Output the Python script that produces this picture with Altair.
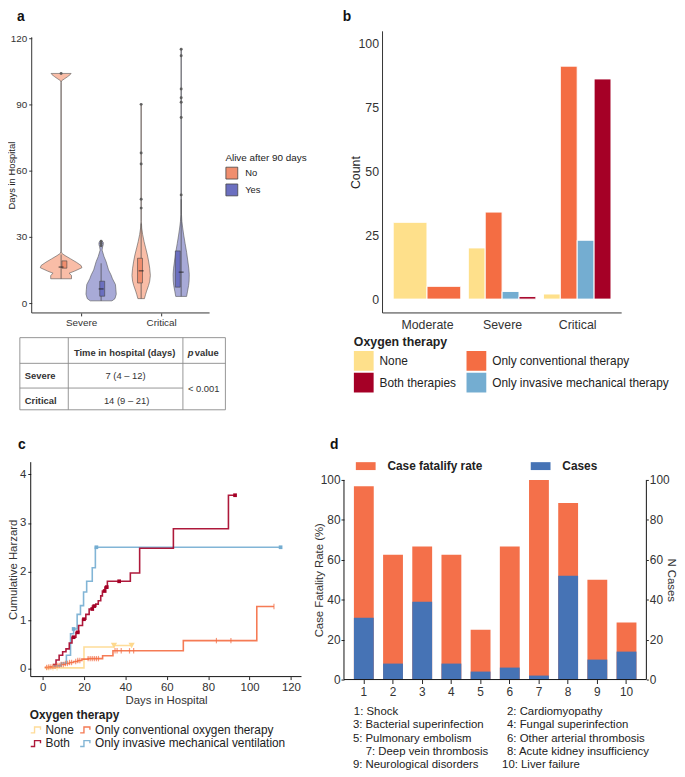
import altair as alt
import pandas as pd

W, H = 677, 768
FONT = "Liberation Sans"


def P(v):
    """page pixel -> chart pixel (the page has an 8px margin)"""
    return v - 8


def qscale(domain, rng):
    return alt.Scale(domain=domain, range=rng, nice=False, zero=False)


ONE = pd.DataFrame({"k": [0]})


def frame_rules(xs, ys, xdom, ydom, sides, color="#333", width=1.0):
    """axis lines drawn through the panel's own scales"""
    out = []
    for side in sides:
        if side in ("left", "right"):
            xv = xdom[0] if side == "left" else xdom[1]
            enc = dict(x=alt.X(datum=xv, type="quantitative", scale=xs, axis=None),
                       y=alt.Y(datum=ydom[0], type="quantitative", scale=ys, axis=None),
                       y2=alt.Y2(datum=ydom[1]))
        else:
            enc = dict(y=alt.Y(datum=ydom[0], type="quantitative", scale=ys, axis=None),
                       x=alt.X(datum=xdom[0], type="quantitative", scale=xs, axis=None),
                       x2=alt.X2(datum=xdom[1]))
        out.append(alt.Chart(ONE).mark_rule(color=color, strokeWidth=width).encode(**enc))
    return out


# ======================= panel a : violins =======================
a_categories = ["Severe", "Critical"]
a_groups = ["No", "Yes"]
sev_no_days = [11, 12.5, 13.5, 14.5, 16, 17, 18.5, 20, 21.5, 22.5, 23.5, 100, 100.7, 101.5, 102.5, 103.5, 104]
sev_no_hw = [0.13, 0.13, 0.10, 0.17, 0.26, 0.25, 0.19, 0.12, 0.05, 0.01, 0.003, 0.003, 0.007, 0.04, 0.08, 0.115, 0.125]
sev_yes_days = [1, 2, 4, 6, 8.4, 11, 12.8, 15, 18.8, 21, 24, 25.5, 26.5, 27.5, 28]
sev_yes_hw = [0.136, 0.173, 0.189, 0.185, 0.179, 0.142, 0.123, 0.093, 0.062, 0.037, 0.012, 0.019, 0.027, 0.027, 0.012]
cri_no_days = [2, 4, 5.4, 8, 9.9, 12.5, 15.8, 19, 21.8, 25, 27.8, 31, 34, 37, 90]
cri_no_hw = [0.041, 0.056, 0.068, 0.093, 0.107, 0.115, 0.107, 0.093, 0.078, 0.056, 0.037, 0.019, 0.007, 0.003, 0.003]
cri_yes_days = [3, 5.4, 8, 10, 13, 15.8, 19, 23, 27, 30.8, 34, 37, 40, 115]
cri_yes_hw = [0.068, 0.08, 0.093, 0.099, 0.101, 0.095, 0.083, 0.068, 0.049, 0.032, 0.019, 0.009, 0.004, 0.003]

box_q1 = [15.8, 3.1, 9.1, 7.2]
box_median = [16.3, 6.4, 14.6, 14.0]
box_q3 = [19.1, 9.9, 20.3, 23.6]
box_low = [11, 1, 2, 3]
box_high = [22, 18, 36, 47]
box_outliers = [[104], [26, 27, 28], [43, 47, 63, 68, 90], [49, 84, 91, 93, 97, 112, 115]]

violin_keys = [("Severe", "No"), ("Severe", "Yes"), ("Critical", "No"), ("Critical", "Yes")]
violin_days = [sev_no_days, sev_yes_days, cri_no_days, cri_yes_days]
violin_hw = [sev_no_hw, sev_yes_hw, cri_no_hw, cri_yes_hw]
dodge = {"No": -0.25, "Yes": 0.25}

vio_rows, box_rows, out_rows = [], [], []
for k, (cat, grp) in enumerate(violin_keys):
    center = a_categories.index(cat) + 1 + dodge[grp]
    for d, hw in zip(violin_days[k], violin_hw[k]):
        vio_rows.append({"vid": k, "group": grp, "days": d, "x_lo": center - hw, "x_hi": center + hw})
    box_rows.append({"group": grp, "xc": center, "q1": box_q1[k], "median": box_median[k],
                     "q3": box_q3[k], "lo": box_low[k], "hi": box_high[k]})
    for o in box_outliers[k]:
        out_rows.append({"group": grp, "xc": center, "days": o})
vio_df = pd.DataFrame(vio_rows)
box_df = pd.DataFrame(box_rows)
out_df = pd.DataFrame(out_rows)

xa_dom, ya_dom = [0.383, 2.605], [-4.48, 120.4]
xa = qscale(xa_dom, [P(32), P(212)])
ya = qscale(ya_dom, [P(312), P(33)])
ax_style_a = dict(grid=False, domain=False, tickColor="#333", labelColor="#333",
                  titleColor="#222", labelFontSize=10, titleFontSize=9.5, titleFontWeight="normal",
                  tickSize=3, labelPadding=2)
axis_a_x = alt.Axis(orient="bottom", offset=P(312) - H, values=[1, 2],
                    labelExpr="datum.value == 1 ? 'Severe' : 'Critical'", title=None,
                    labelFlush=False, **ax_style_a)
axis_a_y = alt.Axis(orient="left", offset=-P(32), values=[0, 30, 60, 90, 120],
                    title="Days in Hospital", titleX=-15, **ax_style_a)

vio_fill = alt.Scale(domain=a_groups, range=["#F9BDA7", "#A8AAD7"])
box_fill = alt.Scale(domain=a_groups, range=["#F08E6E", "#6B6FC0"])

violins = alt.Chart(vio_df).mark_area(orient="horizontal", stroke="#555", strokeWidth=0.6).encode(
    y=alt.Y("days:Q", scale=ya, axis=axis_a_y),
    x=alt.X("x_lo:Q", scale=xa, axis=axis_a_x),
    x2="x_hi:Q",
    fill=alt.Fill("group:N", scale=vio_fill, legend=None),
    detail="vid:N",
)
whiskers = alt.Chart(box_df).mark_rule(color="#444", strokeWidth=0.7).encode(
    x=alt.X("xc:Q", scale=xa, axis=None), y=alt.Y("lo:Q", scale=ya, axis=None), y2="hi:Q")
boxes = alt.Chart(box_df).mark_bar(size=5, stroke="#444", strokeWidth=0.6).encode(
    x=alt.X("xc:Q", scale=xa, axis=None),
    y=alt.Y("q1:Q", scale=ya, axis=None), y2="q3:Q",
    color=alt.Color("group:N", scale=box_fill, legend=alt.Legend(
        title="Alive after 90 days", orient="none", legendX=P(228), legendY=P(150),
        titleFontSize=10, titleFontWeight="normal", titleColor="#222", titlePadding=4,
        labelFontSize=9.5, labelColor="#222", symbolType="square", symbolSize=144,
        symbolStrokeColor="#444", symbolStrokeWidth=0.8, labelOffset=7, rowPadding=0)),
)
medians = alt.Chart(box_df).mark_tick(orient="horizontal", size=5, thickness=1.3, color="#222").encode(
    x=alt.X("xc:Q", scale=xa, axis=None), y=alt.Y("median:Q", scale=ya, axis=None))
outl = alt.Chart(out_df).mark_circle(size=9, color="#555", opacity=0.9).encode(
    x=alt.X("xc:Q", scale=xa, axis=None), y=alt.Y("days:Q", scale=ya, axis=None))
layers_a = [violins, whiskers, boxes, medians, outl] + frame_rules(xa, ya, xa_dom, ya_dom, ["left", "bottom"])

# ======================= panel b : bars =======================
b_severity = ["Moderate", "Severe", "Critical"]
b_therapies = ["None", "Only conventional therapy", "Only invasive mechanical therapy", "Both therapies"]
b_none = [30, 20, 2]
b_conventional = [5, 34, 91]
b_invasive = [0, 3, 23]
b_both = [0, 1, 86]
b_legend_order = ["None", "Both therapies", "Only conventional therapy", "Only invasive mechanical therapy"]
b_colors = {"None": "#FEE08B", "Only conventional therapy": "#F46D43",
            "Only invasive mechanical therapy": "#74ADD1", "Both therapies": "#A50026"}

b_rows = []
for i, sev in enumerate(b_severity):
    counts = [b_none[i], b_conventional[i], b_invasive[i], b_both[i]]
    present = [(t, c) for t, c in zip(b_therapies, counts) if c > 0]
    n = len(present)
    for j, (t, c) in enumerate(present):
        x0 = (i + 1) - 0.45 + j * 0.9 / n
        b_rows.append({"severity": sev, "therapy": t, "count": c, "x0": x0, "x1": x0 + 0.9 / n})
b_df = pd.DataFrame(b_rows)

xb_dom, yb_dom = [0.408, 3.592], [-5.4, 104.6]
xb = qscale(xb_dom, [P(387), P(629)])
yb = qscale(yb_dom, [P(312), P(27)])
ax_style_b = dict(grid=False, domain=False, labelColor="#333", titleColor="#222",
                  labelFontSize=12.5, titleFontSize=12.5, titleFontWeight="normal", ticks=False)
bars_b = alt.Chart(b_df).mark_bar(stroke="white", strokeWidth=1).encode(
    x=alt.X("x0:Q", scale=xb, axis=alt.Axis(
        orient="bottom", offset=P(312) - H, values=[1, 2, 3], title=None, labelFlush=False,
        labelExpr="['', 'Moderate', 'Severe', 'Critical'][datum.value]", labelPadding=6,
        **ax_style_b)),
    x2="x1:Q",
    y=alt.Y("count:Q", scale=yb, axis=alt.Axis(
        orient="left", offset=-P(387), values=[0, 25, 50, 75, 100], title="Count",
        labelPadding=4, titleX=-20, **ax_style_b)),
    y2=alt.datum(0),
    color=alt.Color("therapy:N", scale=alt.Scale(domain=b_legend_order,
                                                 range=[b_colors[t] for t in b_legend_order]),
                    legend=alt.Legend(
                        title="Oxygen therapy", orient="none", legendX=P(358), legendY=P(335),
                        columns=2, titleFontSize=12.5, titleFontWeight="bold", titleColor="#222",
                        titlePadding=3, labelFontSize=12, labelColor="#222", symbolType="square",
                        symbolSize=400, symbolStrokeWidth=0, labelOffset=6, rowPadding=2,
                        columnPadding=10, labelLimit=400)),
)
layers_b = [bars_b] + frame_rules(xb, yb, xb_dom, yb_dom, ["left", "bottom"])

# ======================= panel c : cumulative hazard =======================
c_groups = ["None", "Both", "Only conventional oxygen therapy", "Only invasive mechanical ventilation"]
c_colors = ["#FED98E", "#A50026", "#F46D43", "#74ADD1"]
none_days = [1, 20, 34.5, 43]
none_haz = [0.02, 0.45, 0.48, 0.48]
conv_days = [1, 3, 5, 7, 9, 11, 13, 15, 17, 19, 22, 29, 34, 68, 103.5, 111.8]
conv_haz = [0.03, 0.04, 0.05, 0.07, 0.09, 0.11, 0.13, 0.15, 0.17, 0.2, 0.21, 0.27, 0.37, 0.58, 1.28, 1.28]
both_days = [5, 6.5, 8, 9.7, 11.3, 12.9, 14.2, 16.1, 17.4, 19.3, 20.9, 22.5, 24.1, 25.7, 26.9,
             28.1, 28.9, 30.1, 31.3, 42.4, 46.9, 63.2, 89.8, 93]
both_haz = [0.09, 0.18, 0.28, 0.35, 0.41, 0.53, 0.65, 0.75, 0.89, 1.02, 1.12, 1.23, 1.29, 1.33, 1.4,
            1.5, 1.6, 1.68, 1.8, 1.97, 2.48, 2.88, 3.57, 3.57]
inv_days = [5, 9, 11.5, 13.5, 15, 16.7, 18.3, 19.8, 21.3, 24, 25.5, 115]
inv_haz = [0.06, 0.12, 0.28, 0.72, 0.82, 1.12, 1.3, 1.58, 1.8, 2.08, 2.5, 2.5]
none_censor_tick = [2, 3, 5, 7]
none_censor_tri = [34.5, 43]
conv_censor = [2, 3, 4, 5, 6, 7, 8, 9, 10, 11, 12, 13, 14, 16, 17, 18, 22, 23, 24, 25, 26, 27,
               35, 36, 38, 42, 44, 84, 91, 111.8]
both_censor = [15, 17, 20, 24, 25, 30, 31, 37, 93]
inv_censor = [15, 26, 115]

G_NONE, G_BOTH, G_CONV, G_INV = c_groups
curves = {G_NONE: (none_days, none_haz), G_CONV: (conv_days, conv_haz),
          G_BOTH: (both_days, both_haz), G_INV: (inv_days, inv_haz)}
draw_order = [G_NONE, G_CONV, G_INV, G_BOTH]


def step_at(days, haz, t):
    v = haz[0]
    for d, h in zip(days, haz):
        if d <= t:
            v = h
    return v


c_line_rows = []
for g in draw_order:
    d, h = curves[g]
    for dd, hh in zip(d, h):
        c_line_rows.append({"therapy": g, "day": dd, "haz": hh, "o": draw_order.index(g)})
c_line_df = pd.DataFrame(c_line_rows)


def censor_df(group, times):
    d, h = curves[group]
    return pd.DataFrame({"therapy": group, "day": times, "haz": [step_at(d, h, t) for t in times]})


tick_df = pd.concat([censor_df(G_NONE, none_censor_tick), censor_df(G_CONV, conv_censor)])
tri_df = censor_df(G_NONE, none_censor_tri)
sq_df = pd.concat([censor_df(G_BOTH, both_censor), censor_df(G_INV, inv_censor)])

xc_dom, yc_dom = [-5.73, 125.1], [-0.16, 4.25]
xc = qscale(xc_dom, [P(31), P(305)])
yc = qscale(yc_dom, [P(680), P(463)])
ax_style_c = dict(grid=False, domain=False, tickColor="#222", labelColor="#333",
                  titleColor="#333", labelFontSize=11.5, titleFontSize=11.5, titleFontWeight="normal",
                  tickSize=3, labelPadding=2)
c_color_scale = alt.Scale(domain=c_groups, range=c_colors)
lines_c = alt.Chart(c_line_df).mark_line(interpolate="step-after", strokeWidth=1.6, opacity=0.9).encode(
    x=alt.X("day:Q", scale=xc, axis=alt.Axis(orient="bottom", offset=P(680) - H,
                                             values=[0, 20, 40, 60, 80, 100, 120],
                                             title="Days in Hospital", titlePadding=2,
                                             labelFlush=False, **ax_style_c)),
    y=alt.Y("haz:Q", scale=yc, axis=alt.Axis(orient="left", offset=-P(31), values=[0, 1, 2, 3, 4],
                                             title="Cumulative Harzard", titleX=-12, **ax_style_c)),
    color=alt.Color("therapy:N", scale=c_color_scale, legend=alt.Legend(
        title="Oxygen therapy", orient="none", legendX=P(30), legendY=P(714), columns=2,
        titleFontSize=12, titleFontWeight="bold", titleColor="#222", titlePadding=1,
        labelFontSize=12, labelColor="#222", symbolType="M-1,0.6H-0.3V-0.5H0.8V0",
        symbolSize=120, symbolStrokeWidth=1.4, symbolFillColor="transparent",
        labelOffset=3, rowPadding=1, columnPadding=3, labelLimit=400)),
    order="o:Q",
)
ticks_c = alt.Chart(tick_df).mark_point(shape="M0,-1L0,1", size=30, strokeWidth=1.2, filled=False).encode(
    x=alt.X("day:Q", scale=xc, axis=None), y=alt.Y("haz:Q", scale=yc, axis=None),
    color=alt.Color("therapy:N", scale=c_color_scale, legend=None))
tri_c = alt.Chart(tri_df).mark_point(shape="triangle-down", size=40, filled=True, opacity=1).encode(
    x=alt.X("day:Q", scale=xc, axis=None), y=alt.Y("haz:Q", scale=yc, axis=None),
    color=alt.Color("therapy:N", scale=c_color_scale, legend=None))
sq_c = alt.Chart(sq_df).mark_point(shape="square", size=14, filled=True, opacity=1).encode(
    x=alt.X("day:Q", scale=xc, axis=None), y=alt.Y("haz:Q", scale=yc, axis=None),
    color=alt.Color("therapy:N", scale=c_color_scale, legend=None))
layers_c = [lines_c, ticks_c, tri_c, sq_c] + frame_rules(xc, yc, xc_dom, yc_dom, ["left", "bottom"], "#111")

# ======================= panel d : complications =======================
d_complications = ["Shock", "Cardiomyopathy", "Bacterial superinfection", "Fungal superinfection",
                   "Pulmonary embolism", "Other arterial thrombosis", "Deep vein thrombosis",
                   "Acute kidney insufficiency", "Neurological disorders", "Liver failure"]
d_cfr = [96.8, 62.5, 66.7, 62.5, 25, 66.7, 100, 88.5, 50, 28.6]
d_cases = [31, 8, 39, 8, 4, 6, 2, 52, 10, 14]
d_series = ["Case fatalify rate", "Cases"]
d_colors = ["#F4704A", "#4673B5"]

d_num = [str(i + 1) for i in range(len(d_complications))]
d_df = pd.DataFrame({"num": d_num, "name": d_complications, "cfr": d_cfr, "cases": d_cases,
                     "series": d_series[0]})

xd = alt.Scale(type="band", domain=d_num, range=[P(348), P(654)], paddingInner=0.32, paddingOuter=0.34)
yd_dom = [0, 100]
yd = qscale(yd_dom, [P(683), P(481)])
xd_frame = qscale([0, 1], [P(348), P(654)])
ax_style_d = dict(grid=False, domain=False, tickColor="#222", labelColor="#333",
                  titleColor="#333", labelFontSize=12, titleFontSize=11.5, titleFontWeight="normal",
                  tickSize=3, labelPadding=1)
cfr_bars = alt.Chart(d_df).mark_bar().encode(
    x=alt.X("num:O", scale=xd, sort=d_num, axis=alt.Axis(orient="bottom", offset=P(683) - H, title=None,
                                                         labelAngle=0, **{**ax_style_d, "labelPadding": 3,
                                                                          "tickSize": 4})),
    y=alt.Y("cfr:Q", scale=yd, axis=alt.Axis(orient="left", offset=-P(348),
                                             values=[0, 20, 40, 60, 80, 100],
                                             title="Case Fatality Rate (%)", titleX=-20,
                                             **ax_style_d)),
    color=alt.Color("series:N", scale=alt.Scale(domain=d_series, range=d_colors), legend=alt.Legend(
        title=None, orient="none", legendX=P(360), legendY=P(457), direction="horizontal", columns=2,
        labelFontSize=12, labelFontWeight="bold", labelColor="#222",
        symbolType="M-1,-0.4H1V0.4H-1Z", symbolSize=400, symbolStrokeWidth=0,
        labelOffset=12, columnPadding=48, labelLimit=300)),
)
case_bars = alt.Chart(d_df).mark_bar(color=d_colors[1]).encode(
    x=alt.X("num:O", scale=xd, sort=d_num, axis=None),
    y=alt.Y("cases:Q", scale=yd, axis=alt.Axis(orient="right", offset=P(654) - W,
                                               values=[0, 20, 40, 60, 80, 100],
                                               title="N Cases", titleAngle=90, titleX=19,
                                               **{**ax_style_d, "tickSize": 2})),
)
layers_d = [cfr_bars, case_bars] + frame_rules(xd_frame, yd, [0, 1], yd_dom, ["left", "right", "bottom"], "#111")

# ======================= annotations (panel letters, table, footnotes) =======================
xid = qscale([0, W], [0, W])
yid = qscale([0, H], [0, H])


def text_layer(df, **kw):
    return alt.Chart(df).mark_text(**kw).encode(
        x=alt.X("x:Q", scale=xid, axis=None), y=alt.Y("y:Q", scale=yid, axis=None), text="label:N")


panel_letters = ["a", "b", "c", "d"]
letters_df = pd.DataFrame({"label": panel_letters,
                           "x": [P(21), P(351), P(22), P(338)], "y": [5, 5, P(446), P(446)]})

table_rows = ["Severe", "Critical"]
table_time = ["7 (4 \u2013 12)", "14 (9 \u2013 21)"]
table_header = "Time in hospital (days)"
table_p = "< 0.001"

table_lines = pd.DataFrame({
    "x": [P(20), P(20), P(20), P(228), P(69), P(185), P(20), P(20)],
    "x2": [P(228), P(228), P(20), P(228), P(69), P(185), P(228), P(185)],
    "y": [P(337), P(410), P(337), P(337), P(337), P(337), P(363), P(388)],
    "y2": [P(337), P(410), P(410), P(410), P(410), P(410), P(363), P(388)],
})
rules_t = alt.Chart(table_lines).mark_rule(color="#8a8a8a", strokeWidth=0.9).encode(
    x=alt.X("x:Q", scale=xid, axis=None), x2="x2:Q",
    y=alt.Y("y:Q", scale=yid, axis=None), y2="y2:Q")
hdr_df = pd.DataFrame({"label": [table_header, "value"], "x": [P(126), P(197)], "y": [P(353), P(353)]})
hdr_center = text_layer(hdr_df.iloc[[0]], fontSize=9.5, fontWeight="bold", color="#333", align="center",
                        baseline="middle")
hdr_value = text_layer(hdr_df.iloc[[1]], fontSize=9.5, fontWeight="bold", color="#333", align="left",
                       baseline="middle")
p_df = pd.DataFrame({"label": ["p"], "x": [P(190)], "y": [P(353)]})
hdr_p = text_layer(p_df, fontSize=9.5, fontStyle="italic", fontWeight="bold", color="#333", align="left",
                   baseline="middle")
rowlab_df = pd.DataFrame({"label": table_rows, "x": [P(25), P(25)], "y": [P(376), P(401)]})
rowlab = text_layer(rowlab_df, fontSize=9.5, fontWeight="bold", color="#333", align="left", baseline="middle")
vals_df = pd.DataFrame({"label": table_time + [table_p], "x": [P(127), P(128), P(206)],
                        "y": [P(376), P(401), P(389)]})
vals = text_layer(vals_df, fontSize=9.5, color="#333", align="center", baseline="middle")

foot_labels = [f"{i + 1}: {n}" for i, n in enumerate(d_complications)]
foot_x = [P(358), P(513), P(357), P(513), P(357), P(513), P(370), P(513), P(357), P(508)]
foot_y = [P(716), P(716), P(729.5), P(729.5), P(743), P(743), P(756), P(756), P(769), P(769)]
foot_df = pd.DataFrame({"label": foot_labels, "x": foot_x, "y": foot_y})
foot = text_layer(foot_df, fontSize=11.5, color="#222", align="left", baseline="middle")

letters = text_layer(letters_df, fontSize=14, fontWeight="bold", color="#111", align="center",
                     baseline="middle")
layers_annot = [rules_t, hdr_center, hdr_value, hdr_p, rowlab, vals, foot, letters]

# ======================= assemble =======================
chart = alt.layer(*(layers_a + layers_b + layers_c + layers_d + layers_annot)).resolve_scale(
    x="independent", y="independent", color="independent", fill="independent"
).properties(
    width=W, height=H, autosize=alt.AutoSizeParams(type="none"), padding=0, background="white"
).configure(font=FONT).configure_view(stroke=None)

chart.save("out.html", embed_options={"renderer": "svg", "actions": False})
